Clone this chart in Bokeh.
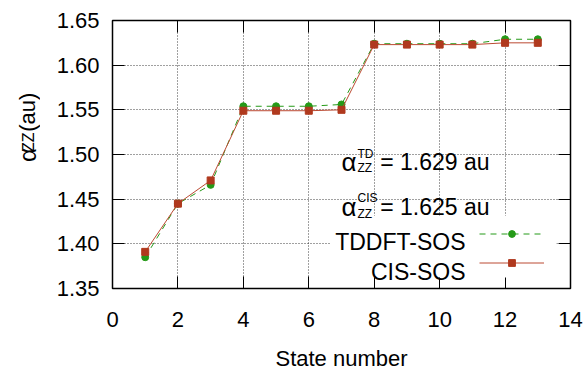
import math
from bokeh.plotting import figure
from bokeh.layouts import row
from bokeh.models import (FixedTicker, NumeralTickFormatter, LinearAxis, Label,
                          Legend, LegendItem, BoxAnnotation, Range1d)
from bokeh.core.properties import value
from bokeh.embed import file_html
from bokeh.resources import INLINE

# ---------------- data ----------------
states = [1, 2, 3, 4, 5, 6, 7, 8, 9, 10, 11, 12, 13]
tddft_sos = [1.385, 1.445, 1.466, 1.554, 1.554, 1.554, 1.556, 1.624, 1.624, 1.624, 1.624, 1.629, 1.629]
cis_sos = [1.391, 1.445, 1.471, 1.549, 1.549, 1.549, 1.550, 1.623, 1.623, 1.623, 1.623, 1.625, 1.625]
x_ticks = [0, 2, 4, 6, 8, 10, 12, 14]
y_ticks = [1.35, 1.40, 1.45, 1.50, 1.55, 1.60, 1.65]
series_names = ["TDDFT-SOS", "CIS-SOS"]
alpha_td = "1.629"
alpha_cis = "1.625"

# ---------------- layout ----------------
W, H = 587, 373
LW = 40                      # width of the strip holding the y-axis title
L, R, T, B = 112, 17, 20, 84  # frame borders in page pixels
XMIN, XMAX, YMIN, YMAX = 0, 14, 1.35, 1.65
FW, FH = W - L - R, H - T - B

FONT = "Liberation Sans"
GREEN = "#259a18"
RED = "#b0391e"
REDLINE = "#bb4a32"

def px2x(px):
    return XMIN + (px - L) / FW * (XMAX - XMIN)

def py2y(py):
    return YMAX - (py - T) / FH * (YMAX - YMIN)

p = figure(width=W - LW, height=H, output_backend="svg", toolbar_location=None,
           x_range=Range1d(XMIN, XMAX), y_range=Range1d(YMIN, YMAX),
           min_border_left=L - LW, min_border_right=R, min_border_top=T, min_border_bottom=B)
p.background_fill_color = "white"
p.border_fill_color = "white"
p.outline_line_color = "black"
p.outline_line_width = 1.5

def style_axis(ax, labels=True):
    ax.axis_line_color = None
    ax.major_tick_in = 12
    ax.major_tick_out = 0
    ax.minor_tick_line_color = None
    ax.major_tick_line_color = "black"
    ax.major_tick_line_width = 1
    ax.major_label_text_font = FONT
    if labels:
        ax.major_label_text_font_size = "22px"
        ax.major_label_text_color = "black"
    else:
        ax.major_label_text_font_size = "0px"
        ax.major_label_text_color = None

p.xaxis.ticker = FixedTicker(ticks=x_ticks)
p.yaxis.ticker = FixedTicker(ticks=y_ticks)
p.yaxis.formatter = NumeralTickFormatter(format="0.00")
style_axis(p.xaxis[0])
style_axis(p.yaxis[0])
p.xaxis.major_label_standoff = 23
p.yaxis.major_label_standoff = 13
p.xaxis.axis_label = "State number"
p.xaxis.axis_label_text_font = FONT
p.xaxis.axis_label_text_font_size = "22px"
p.xaxis.axis_label_text_font_style = "normal"
p.xaxis.axis_label_text_color = "black"
p.xaxis.axis_label_standoff = 16

top_ax = LinearAxis(ticker=FixedTicker(ticks=x_ticks))
right_ax = LinearAxis(ticker=FixedTicker(ticks=y_ticks))
style_axis(top_ax, labels=False)
style_axis(right_ax, labels=False)
p.add_layout(top_ax, "above")
p.add_layout(right_ax, "right")

p.grid.grid_line_color = "black"
p.grid.grid_line_alpha = 0.75
p.grid.grid_line_dash = "1 2"
p.grid.grid_line_width = 1

# ---------------- series ----------------
g_line = p.line(states, tddft_sos, line_color=GREEN, line_width=1, line_dash="6 5")
g_pts = p.scatter(states, tddft_sos, marker="circle", size=7, fill_color=GREEN, line_color=GREEN)
r_line = p.line(states, cis_sos, line_color=REDLINE, line_width=1)
r_pts = p.scatter(states, cis_sos, marker="square", size=7, fill_color=RED, line_color=RED)

# opaque key area
p.add_layout(BoxAnnotation(left=px2x(330), right=px2x(556), top=py2y(216), bottom=py2y(278),
                           fill_color="white", fill_alpha=1, line_color=None))

def lab(text, px, py, size, align="left"):
    p.add_layout(Label(x=px2x(px), y=py2y(py), text=text, text_font=FONT,
                       text_font_size=f"{size}px", text_align=align,
                       text_baseline="alphabetic", text_color="black"))

# annotations
lab("α", 341, 162, 26)
lab("TD", 357, 153.5, 12)
lab("ZZ", 357, 168.5, 12)
lab("= " + alpha_td + " au", 489, 162, 23, align="right")
lab("α", 341, 207, 26)
lab("CIS", 357, 198.5, 12)
lab("ZZ", 357, 214.5, 12)
lab("= " + alpha_cis + " au", 489, 207, 23, align="right")

# legend texts (gnuplot-style: text left of the sample)
lab(series_names[0], 465, 242.5, 23, align="right")
lab(series_names[1], 465, 272, 23, align="right")

legend = Legend(items=[LegendItem(label=" ", renderers=[g_line, g_pts]),
                       LegendItem(label=" ", renderers=[r_line, r_pts])],
                location=(479 - L, (T + FH) - 272),
                glyph_width=65, glyph_height=17, spacing=12, padding=0, margin=0,
                label_width=0, label_height=0, label_standoff=0,
                label_text_font_size="0px", label_text_color=None,
                background_fill_alpha=0, border_line_alpha=0)
p.add_layout(legend, "center")

# ---------------- y-axis title strip ----------------
lf = figure(width=LW, height=H, output_backend="svg", toolbar_location=None,
            x_range=Range1d(0, LW), y_range=Range1d(H, 0),
            min_border=0, min_border_left=0, min_border_right=0,
            min_border_top=0, min_border_bottom=0)
lf.axis.visible = False
lf.grid.visible = False
lf.outline_line_color = None
lf.background_fill_color = "white"
lf.border_fill_color = "white"

title_parts = ["α", "ZZ", "(au)"]
title_x = [27, 28, 27]
title_y = [197, 183, 155]
title_size = ["24px", "16px", "22px"]
lf.text(x=title_x, y=title_y, text=title_parts, angle=math.pi / 2,
        text_font=value(FONT), text_font_size=title_size,
        text_align="left", text_baseline="alphabetic", text_color="black")

layout = row(lf, p, spacing=0)
open("out.html", "w").write(file_html(layout, INLINE))
